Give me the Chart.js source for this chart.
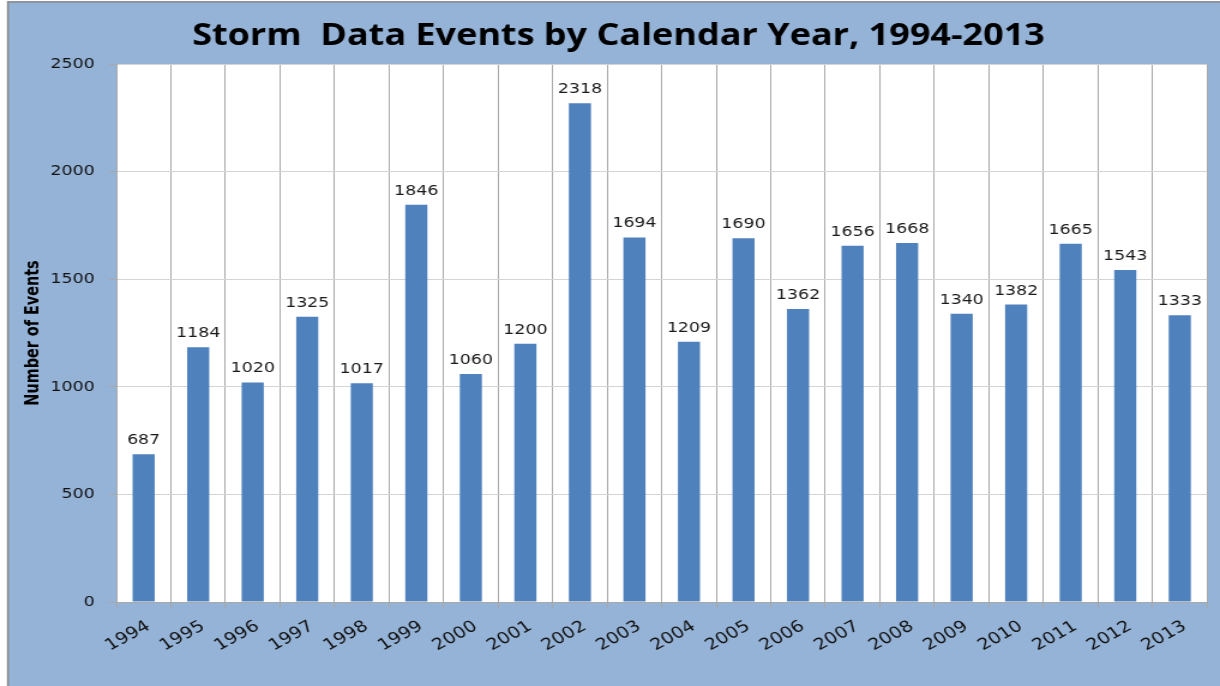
<!DOCTYPE html>
<html>
<head>
<meta charset="utf-8">
<script src="https://cdn.jsdelivr.net/npm/chart.js@4.4.0/dist/chart.umd.min.js"></script>
<style>
  html, body { margin: 0; padding: 0; background: #ffffff; overflow: hidden; }
  #wrap { position: absolute; left: 0; top: 0; width: 1017px; height: 686px;
          transform: scaleX(1.19961); transform-origin: 0 0; }
</style>
</head>
<body>
<div id="wrap"><canvas id="c" width="1017" height="686"></canvas></div>
<script>
const years = ['1994','1995','1996','1997','1998','1999','2000','2001','2002','2003',
               '2004','2005','2006','2007','2008','2009','2010','2011','2012','2013'];
const events = [687, 1184, 1020, 1325, 1017, 1846, 1060, 1200, 2318, 1694,
                1209, 1690, 1362, 1656, 1668, 1340, 1382, 1665, 1543, 1333];
const yTicks = [0, 500, 1000, 1500, 2000, 2500];

const bgPlugin = {
  id: 'bg',
  beforeDraw(chart) {
    const ctx = chart.ctx;
    const a = chart.chartArea;
    ctx.save();
    ctx.fillStyle = '#ffffff';
    ctx.fillRect(0, 0, chart.width, chart.height);
    ctx.fillStyle = '#95b3d7';
    ctx.fillRect(6, 1, chart.width - 6, chart.height - 1);
    ctx.strokeStyle = '#8a8a8a';
    ctx.lineWidth = 1.6;
    ctx.beginPath();
    ctx.moveTo(6.6, chart.height);
    ctx.lineTo(6.6, 2);
    ctx.lineTo(chart.width, 2);
    ctx.stroke();
    ctx.fillStyle = '#ffffff';
    ctx.fillRect(a.left, a.top, a.right - a.left, a.bottom - a.top);
    ctx.restore();
  }
};

const labelPlugin = {
  id: 'valueLabels',
  afterDatasetsDraw(chart) {
    const ctx = chart.ctx;
    const meta = chart.getDatasetMeta(0);
    ctx.save();
    ctx.font = '14.5px "DejaVu Sans"';
    ctx.fillStyle = '#1a1a1a';
    ctx.textAlign = 'center';
    ctx.textBaseline = 'alphabetic';
    meta.data.forEach((bar, i) => {
      ctx.fillText(String(events[i]), bar.x, bar.y - 10);
    });
    ctx.restore();
  }
};

new Chart(document.getElementById('c'), {
  type: 'bar',
  data: {
    labels: years,
    datasets: [{
      data: events,
      backgroundColor: '#4f81bd',
      borderWidth: 0,
      categoryPercentage: 1.0,
      barPercentage: 0.405
    }]
  },
  options: {
    responsive: false,
    animation: false,
    devicePixelRatio: 1,
    layout: { padding: { left: 25, right: 10.8, top: 2, bottom: 0 } },
    plugins: {
      legend: { display: false },
      tooltip: { enabled: false },
      title: {
        display: true,
        text: 'Storm  Data Events by Calendar Year, 1994-2013',
        color: '#000000',
        font: { family: '"Open Sans"', size: 30, weight: 'bold', lineHeight: 1.2 },
        padding: { top: 16, bottom: 10 }
      }
    },
    scales: {
      x: {
        grid: { display: true, offset: true, color: '#a8a8a8', tickColor: '#a8a8a8', tickLength: 6, lineWidth: 1 },
        border: { display: true, color: '#a8a8a8' },
        ticks: {
          color: '#111111',
          font: { family: '"DejaVu Sans"', size: 16 },
          minRotation: 33, maxRotation: 33,
          padding: 9,
          labelOffset: 4,
          autoSkip: false
        },
        afterFit(scale) { scale.height = 84; }
      },
      y: {
        min: 0, max: 2500,
        afterBuildTicks(scale) { scale.ticks = yTicks.map(v => ({ value: v })); },
        grid: { color: '#d4d4d4', tickColor: '#a8a8a8', tickLength: 6, lineWidth: 1 },
        border: { display: true, color: '#a8a8a8' },
        ticks: {
          color: '#111111',
          font: { family: '"DejaVu Sans"', size: 14.5 },
          padding: 12,
          callback: (v) => String(v)
        },
        title: {
          display: true,
          text: 'Number of Events',
          color: '#000000',
          font: { family: '"DejaVu Sans Condensed"', size: 16, weight: 'bold', lineHeight: 1.2 },
          padding: { top: -7, bottom: 0 }
        },
        afterFit(scale) { scale.width = 72; }
      }
    }
  },
  plugins: [bgPlugin, labelPlugin]
});
</script>
</body>
</html>
